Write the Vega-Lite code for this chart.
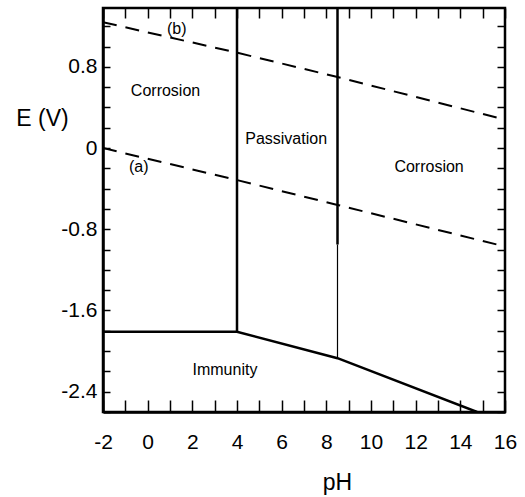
{
  "$schema": "https://vega.github.io/schema/vega-lite/v6.json",
  "width": 402,
  "height": 404,
  "autosize": {"type": "none"},
  "padding": {"left": 103, "top": 8, "right": 20, "bottom": 85},
  "background": "white",
  "config": {
    "font": "Liberation Sans",
    "view": {"stroke": "black", "strokeWidth": 2.5},
    "axis": {
      "domainColor": "black", "domainWidth": 2.5,
      "tickColor": "black", "tickWidth": 1.5,
      "grid": false,
      "labelColor": "black", "titleColor": "black",
      "labelFont": "Liberation Sans", "titleFont": "Liberation Sans",
      "labelFontSize": 21, "titleFontSize": 23, "titleFontWeight": "normal",
      "labelFlush": false, "labelOverlap": false
    }
  },
  "datasets": {
    "boundaries": [
      {"segment": "pH 4 vertical", "pH": 4, "E": 1.38},
      {"segment": "pH 4 vertical", "pH": 4, "E": -1.81},
      {"segment": "immunity edge", "pH": -2, "E": -1.81},
      {"segment": "immunity edge", "pH": 4, "E": -1.81},
      {"segment": "immunity edge", "pH": 8.5, "E": -2.07},
      {"segment": "immunity edge", "pH": 14.75, "E": -2.6},
      {"segment": "pH 8.5 upper", "pH": 8.5, "E": 1.38},
      {"segment": "pH 8.5 upper", "pH": 8.5, "E": -0.95}
    ],
    "thin": [
      {"segment": "pH 8.5 lower", "pH": 8.5, "E": -0.95},
      {"segment": "pH 8.5 lower", "pH": 8.5, "E": -2.07}
    ],
    "water": [
      {"line": "a", "pH": -2, "E": 0.0},
      {"line": "a", "pH": 4, "E": -0.315},
      {"line": "a", "pH": 8.5, "E": -0.56},
      {"line": "a", "pH": 16, "E": -0.97},
      {"line": "b", "pH": -2, "E": 1.24},
      {"line": "b", "pH": 4, "E": 0.94},
      {"line": "b", "pH": 8.5, "E": 0.7},
      {"line": "b", "pH": 16, "E": 0.28}
    ],
    "labels": [
      {"text": "(b)", "pH": 1.3, "E": 1.17},
      {"text": "(a)", "pH": -0.4, "E": -0.19},
      {"text": "Corrosion", "pH": 0.8, "E": 0.56},
      {"text": "Passivation", "pH": 6.2, "E": 0.09},
      {"text": "Corrosion", "pH": 12.6, "E": -0.19},
      {"text": "Immunity", "pH": 3.46, "E": -2.19}
    ]
  },
  "layer": [
    {
      "data": {"name": "boundaries"},
      "mark": {"type": "line", "color": "black", "strokeWidth": 2.5, "clip": true},
      "encoding": {
        "x": {
          "field": "pH", "type": "quantitative",
          "scale": {"domain": [-2, 16], "nice": false, "zero": false},
          "axis": {
            "orient": "bottom",
            "values": [-2,0,2,4,6,8,10,12,14,16],
            "labelExpr": "replace(datum.label, '\u2212', '-')",
            "ticks": false, "labelPadding": 19,
            "title": "pH", "titleAnchor": "start", "titleAlign": "center",
            "titleX": 234, "titleY": 70, "titleBaseline": "middle"
          }
        },
        "y": {
          "field": "E", "type": "quantitative",
          "scale": {"domain": [-2.6, 1.38], "nice": false, "zero": false},
          "axis": {
            "orient": "left",
            "values": [-2.4,-1.6,-0.8,0,0.8],
            "labelExpr": "replace(format(datum.value, '.1~f'), '\u2212', '-')",
            "ticks": false, "labelPadding": 6,
            "title": "E (V)", "titleAngle": 0, "titleAlign": "center", "titleBaseline": "middle",
            "titleX": -61, "titleY": 110
          }
        },
        "detail": {"field": "segment"}
      }
    },
    {
      "data": {"name": "thin"},
      "mark": {"type": "line", "color": "black", "strokeWidth": 1.2, "clip": true},
      "encoding": {
        "x": {
          "field": "pH", "type": "quantitative",
          "axis": {
            "orient": "top",
            "values": [-2,-1,0,1,2,3,4,5,6,7,8,9,10,11,12,13,14,15,16],
            "labels": false, "domain": false, "tickSize": 10, "offset": -10, "title": null
          }
        },
        "y": {
          "field": "E", "type": "quantitative",
          "axis": {
            "orient": "right",
            "values": [-2.6,-2.4,-2.2,-2,-1.8,-1.6,-1.4,-1.2,-1,-0.8,-0.6,-0.4,-0.2,0,0.2,0.4,0.6,0.8,1,1.2],
            "labels": false, "domain": false, "tickSize": 8, "offset": -8, "title": null
          }
        },
        "detail": {"field": "segment"}
      }
    },
    {
      "data": {"name": "water"},
      "mark": {"type": "line", "color": "black", "strokeWidth": 2, "strokeDash": [14, 9], "clip": true},
      "encoding": {
        "x": {
          "field": "pH", "type": "quantitative",
          "axis": {
            "orient": "bottom",
            "values": [-2,-1,0,1,2,3,4,5,6,7,8,9,10,11,12,13,14,15,16],
            "labels": false, "domain": false, "tickSize": 12, "offset": -12, "title": null
          }
        },
        "y": {
          "field": "E", "type": "quantitative",
          "axis": {
            "orient": "left",
            "values": [-2.6,-2.4,-2.2,-2,-1.8,-1.6,-1.4,-1.2,-1,-0.8,-0.6,-0.4,-0.2,0,0.2,0.4,0.6,0.8,1,1.2],
            "labels": false, "domain": false, "tickSize": 7, "offset": -7, "title": null
          }
        },
        "detail": {"field": "line"}
      }
    },
    {
      "data": {"name": "labels"},
      "mark": {"type": "text", "font": "Liberation Sans", "fontSize": 16, "color": "black", "align": "center", "baseline": "middle"},
      "encoding": {
        "x": {"field": "pH", "type": "quantitative", "axis": null},
        "y": {"field": "E", "type": "quantitative", "axis": null},
        "text": {"field": "text"}
      }
    }
  ],
  "resolve": {"axis": {"x": "independent", "y": "independent"}}
}
